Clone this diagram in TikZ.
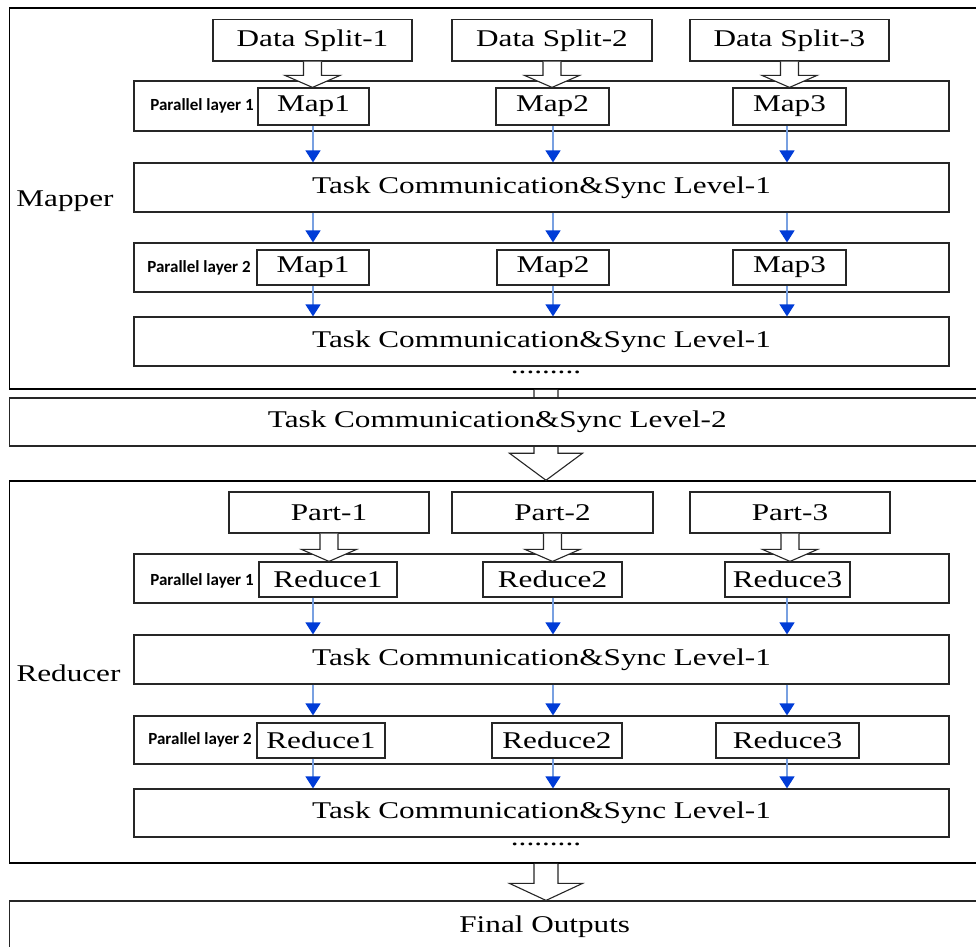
\documentclass[tikz,border=0pt]{standalone}
\usepackage{fontspec}
\setmainfont{Liberation Serif}
\newfontfamily\wideserif[FakeStretch=1.3]{Liberation Serif}
\newfontfamily\layerfont{Carlito}
\usetikzlibrary{arrows.meta,calc}

\definecolor{linkblue}{RGB}{120,160,225}
\definecolor{headblue}{RGB}{0,60,215}

% hollow block arrow: #1 start, #2 tip, #3 half shaft, #4 half head, #5 head length
\newcommand\blockarrow[5]{%
  \filldraw[hollow] ($(#1)+(-#3,0)$) -- ($(#2)+(-#3,-#5)$) -- ($(#2)+(-#4,-#5)$)
    -- (#2) -- ($(#2)+(#4,-#5)$) -- ($(#2)+(#3,-#5)$) -- ($(#1)+(#3,0)$);}

\tikzset{
  every node/.style={font=\wideserif\fontsize{24}{28}\selectfont},
  frame/.style={draw=black, line width=1.5pt, fill=white, inner sep=0pt},
  box/.style={draw=black!85, line width=1.2pt, fill=white, inner sep=0pt},
  layertag/.style={font=\layerfont\bfseries\fontsize{17}{20}\selectfont, inner sep=0pt},
  barrow/.style={draw=linkblue, line width=1.4pt, -{Triangle[width=15pt,length=12pt,color=headblue]}},
  hollow/.style={draw=black!85, fill=white, line width=1.1pt, line join=miter}
}

\begin{document}
\begin{tikzpicture}[x=1pt,y=-1pt]
\useasboundingbox (0,0) rectangle (976,946);
\clip (0,0) rectangle (976,946);

% columns of the thin blue connectors
\coordinate (colA) at (313,0);
\coordinate (colB) at (553,0);
\coordinate (colC) at (787,0);
\coordinate (bx) at (546,0);

% ---------------- Mapper stage ----------------
\node[frame, minimum width=980.5pt, minimum height=381pt] (mapper) at (499.75,198.5) {};
\node (maplabel) at (65,201) {Mapper};

\node[box, minimum width=199pt, minimum height=41.5pt] (ds1) at (312.5,40.25) {Data Split-1};
\node[box, minimum width=200pt, minimum height=41.5pt] (ds2) at (552,40.25) {Data Split-2};
\node[box, minimum width=199pt, minimum height=41.5pt] (ds3) at (789.5,40.25) {Data Split-3};

\node[box, minimum width=815pt, minimum height=50pt] (ml1) at (541.5,106) {};
\node[layertag] (tag1) at (202,106) {Parallel layer 1};
\node[box, minimum width=111pt, minimum height=37pt] (m11) at (313.5,106.5) {Map1};
\node[box, minimum width=113pt, minimum height=37pt] (m12) at (552.5,106.5) {Map2};
\node[box, minimum width=113pt, minimum height=37pt] (m13) at (789.5,106.5) {Map3};

\coordinate (s1) at (ds1.south); \coordinate (t1) at (m11.north -| s1);
\coordinate (s2) at (ds2.south); \coordinate (t2) at (m12.north -| s2);
\coordinate (s3) at (ds3.south); \coordinate (t3) at (m13.north -| s3);
\blockarrow{s1}{t1}{9}{27.5}{12}
\blockarrow{s2}{t2}{9}{27.5}{12}
\blockarrow{s3}{t3}{9}{27.5}{12}

\node[box, minimum width=815pt, minimum height=49pt] (tca) at (541.5,187.5) {Task Communication\&Sync Level-1};

\node[box, minimum width=815pt, minimum height=49pt] (ml2) at (541.5,267.5) {};
\node[layertag] (tag2) at (199,268) {Parallel layer 2};
\node[box, minimum width=112pt, minimum height=35pt] (m21) at (313,267.5) {Map1};
\node[box, minimum width=112pt, minimum height=35pt] (m22) at (553,267.5) {Map2};
\node[box, minimum width=113pt, minimum height=35pt] (m23) at (789.5,267.5) {Map3};

\node[box, minimum width=815pt, minimum height=49pt] (tcb) at (541.5,341.5) {Task Communication\&Sync Level-1};
\node[inner sep=0pt] (mdots) at (546,372) {.........};

\draw[barrow] (m11.south -| colA) -- (tca.north -| colA);
\draw[barrow] (m12.south -| colB) -- (tca.north -| colB);
\draw[barrow] (m13.south -| colC) -- (tca.north -| colC);
\draw[barrow] (tca.south -| colA) -- (ml2.north -| colA);
\draw[barrow] (tca.south -| colB) -- (ml2.north -| colB);
\draw[barrow] (tca.south -| colC) -- (ml2.north -| colC);
\draw[barrow] (m21.south -| colA) -- (tcb.north -| colA);
\draw[barrow] (m22.south -| colB) -- (tcb.north -| colB);
\draw[barrow] (m23.south -| colC) -- (tcb.north -| colC);

% ---------------- Reducer frame and level-2 sync ----------------
\node[frame, minimum width=980.5pt, minimum height=382pt] (reducer) at (499.75,672) {};

\coordinate (s7) at (mapper.south -| bx); \coordinate (t7) at (reducer.north -| bx);
\blockarrow{s7}{t7}{12}{36.5}{27}

\node[box, line width=1.4pt, minimum width=975.5pt, minimum height=48pt] (lv2) at (497.25,422) {Task Communication\&Sync Level-2};

% ---------------- Reducer stage ----------------
\node (redlabel) at (68.5,673) {Reducer};

\node[box, minimum width=200pt, minimum height=41pt] (p1) at (329,512.5) {Part-1};
\node[box, minimum width=201pt, minimum height=41pt] (p2) at (552.5,512.5) {Part-2};
\node[box, minimum width=200pt, minimum height=41pt] (p3) at (790,512.5) {Part-3};

\node[box, minimum width=815pt, minimum height=49pt] (rl1) at (541.5,578.5) {};
\node[layertag] (tag3) at (202,581) {Parallel layer 1};
\node[box, minimum width=138pt, minimum height=35pt] (r11) at (328,579.5) {Reduce1};
\node[box, minimum width=139pt, minimum height=35pt] (r12) at (552.5,579.5) {Reduce2};
\node[box, minimum width=125pt, minimum height=35pt] (r13) at (787.5,579.5) {Reduce3};

\coordinate (s4) at (p1.south); \coordinate (t4) at (r11.north -| s4);
\coordinate (s5) at (p2.south); \coordinate (t5) at (r12.north -| s5);
\coordinate (s6) at (p3.south); \coordinate (t6) at (r13.north -| s6);
\blockarrow{s4}{t4}{9}{27.5}{12}
\blockarrow{s5}{t5}{9}{27.5}{12}
\blockarrow{s6}{t6}{9}{27.5}{12}

\node[box, minimum width=815pt, minimum height=49pt] (tcc) at (541.5,659.5) {Task Communication\&Sync Level-1};

\node[box, minimum width=815pt, minimum height=48pt] (rl2) at (541.5,740) {};
\node[layertag] (tag4) at (200,740) {Parallel layer 2};
\node[box, minimum width=128pt, minimum height=35pt] (r21) at (321,740.5) {Reduce1};
\node[box, minimum width=130pt, minimum height=35pt] (r22) at (557,740.5) {Reduce2};
\node[box, minimum width=143pt, minimum height=35pt] (r23) at (787.5,740.5) {Reduce3};

\node[box, minimum width=815pt, minimum height=48pt] (tcd) at (541.5,813) {Task Communication\&Sync Level-1};
\node[inner sep=0pt] (rdots) at (546,844) {.........};

\draw[barrow] (r11.south -| colA) -- (tcc.north -| colA);
\draw[barrow] (r12.south -| colB) -- (tcc.north -| colB);
\draw[barrow] (r13.south -| colC) -- (tcc.north -| colC);
\draw[barrow] (tcc.south -| colA) -- (rl2.north -| colA);
\draw[barrow] (tcc.south -| colB) -- (rl2.north -| colB);
\draw[barrow] (tcc.south -| colC) -- (rl2.north -| colC);
\draw[barrow] (r21.south -| colA) -- (tcd.north -| colA);
\draw[barrow] (r22.south -| colB) -- (tcd.north -| colB);
\draw[barrow] (r23.south -| colC) -- (tcd.north -| colC);

% ---------------- Final outputs ----------------
\node[box, minimum width=1070.5pt, minimum height=52pt] (final) at (544.75,927) {Final Outputs};
\coordinate (s8) at (reducer.south -| bx); \coordinate (t8) at (final.north -| bx);
\blockarrow{s8}{t8}{12}{36.5}{17}

\end{tikzpicture}
\end{document}
